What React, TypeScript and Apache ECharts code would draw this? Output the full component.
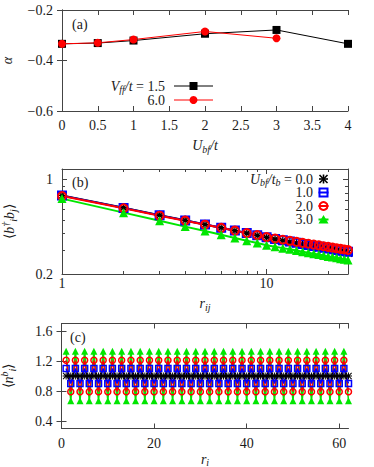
import React, { useEffect, useRef } from 'react';
import * as echarts from 'echarts';

// ---------- Panel (a) ----------
const aX15 = [0, 0.5, 1, 2, 3, 4];
const aY15 = [-0.334, -0.331, -0.321, -0.294, -0.279, -0.334];
const aX60 = [0, 0.5, 1, 2, 3];
const aY60 = [-0.334, -0.330, -0.317, -0.285, -0.312];
const aXTicks = [0, 0.5, 1, 1.5, 2, 2.5, 3, 3.5, 4];
const aLegend = ['{i|V}{s|ff}{i|/t}{n| = 1.5}', '{n|6.0}'];

// ---------- Panel (b) ----------
const bR = [1, 2, 3, 4, 5, 6, 7, 8, 9, 10, 11, 12, 13, 14, 15, 16, 17, 18, 19, 20, 21, 22, 23, 24, 25];
const bU00 = [0.765, 0.620, 0.545, 0.500, 0.466, 0.441, 0.419, 0.401, 0.386, 0.373, 0.362, 0.353, 0.345, 0.338, 0.331, 0.325, 0.319, 0.314, 0.309, 0.305, 0.301, 0.297, 0.294, 0.291, 0.288];
const bU10 = [0.762, 0.618, 0.544, 0.499, 0.466, 0.441, 0.420, 0.402, 0.387, 0.374, 0.364, 0.356, 0.348, 0.341, 0.334, 0.328, 0.323, 0.318, 0.313, 0.309, 0.305, 0.301, 0.298, 0.295, 0.292];
const bU20 = [0.757, 0.614, 0.541, 0.497, 0.464, 0.440, 0.419, 0.402, 0.388, 0.375, 0.366, 0.359, 0.352, 0.346, 0.340, 0.335, 0.330, 0.326, 0.321, 0.318, 0.314, 0.310, 0.307, 0.304, 0.301];
const bU30 = [0.724, 0.570, 0.496, 0.449, 0.416, 0.391, 0.370, 0.353, 0.340, 0.327, 0.319, 0.311, 0.305, 0.299, 0.292, 0.288, 0.283, 0.279, 0.274, 0.270, 0.267, 0.264, 0.260, 0.257, 0.254];
const bXMajor = [1, 10];
const bXMinor = [2, 3, 4, 5, 6, 7, 8, 9, 20];
const bYMajor = [0.2, 1];
const bYMinor = [0.3, 0.4, 0.5, 0.6, 0.7, 0.8, 0.9];
const bLegend = ['{i|U}{s|bf}{i|/t}{s|b}{n| = 0.0}', '{n|1.0}', '{n|2.0}', '{n|3.0}'];

// ---------- Panel (c) ----------
const cR = [1, 2, 3, 4, 5, 6, 7, 8, 9, 10, 11, 12, 13, 14, 15, 16, 17, 18, 19, 20, 21, 22, 23, 24, 25, 26, 27, 28, 29, 30, 31, 32, 33, 34, 35, 36, 37, 38, 39, 40, 41, 42, 43, 44, 45, 46, 47, 48, 49, 50, 51, 52, 53, 54, 55, 56, 57, 58, 59, 60, 61, 62];
const cU00 = [1.0, 1.0, 1.0, 1.0, 1.0, 1.0, 1.0, 1.0, 1.0, 1.0, 1.0, 1.0, 1.0, 1.0, 1.0, 1.0, 1.0, 1.0, 1.0, 1.0, 1.0, 1.0, 1.0, 1.0, 1.0, 1.0, 1.0, 1.0, 1.0, 1.0, 1.0, 1.0, 1.0, 1.0, 1.0, 1.0, 1.0, 1.0, 1.0, 1.0, 1.0, 1.0, 1.0, 1.0, 1.0, 1.0, 1.0, 1.0, 1.0, 1.0, 1.0, 1.0, 1.0, 1.0, 1.0, 1.0, 1.0, 1.0, 1.0, 1.0, 1.0, 1.0];
const cU10 = [1.10, 0.90, 1.10, 0.90, 1.10, 0.90, 1.10, 0.90, 1.10, 0.90, 1.10, 0.90, 1.10, 0.90, 1.10, 0.90, 1.10, 0.90, 1.10, 0.90, 1.10, 0.90, 1.10, 0.90, 1.10, 0.90, 1.10, 0.90, 1.10, 0.90, 1.10, 0.90, 1.10, 0.90, 1.10, 0.90, 1.10, 0.90, 1.10, 0.90, 1.10, 0.90, 1.10, 0.90, 1.10, 0.90, 1.10, 0.90, 1.10, 0.90, 1.10, 0.90, 1.10, 0.90, 1.10, 0.90, 1.10, 0.90, 1.10, 0.90, 1.10, 0.90];
const cU20 = [1.21, 0.79, 1.21, 0.79, 1.21, 0.79, 1.21, 0.79, 1.21, 0.79, 1.21, 0.79, 1.21, 0.79, 1.21, 0.79, 1.21, 0.79, 1.21, 0.79, 1.21, 0.79, 1.21, 0.79, 1.21, 0.79, 1.21, 0.79, 1.21, 0.79, 1.21, 0.79, 1.21, 0.79, 1.21, 0.79, 1.21, 0.79, 1.21, 0.79, 1.21, 0.79, 1.21, 0.79, 1.21, 0.79, 1.21, 0.79, 1.21, 0.79, 1.21, 0.79, 1.21, 0.79, 1.21, 0.79, 1.21, 0.79, 1.21, 0.79, 1.21, 0.79];
const cU30 = [1.33, 0.67, 1.33, 0.67, 1.33, 0.67, 1.33, 0.67, 1.33, 0.67, 1.33, 0.67, 1.33, 0.67, 1.33, 0.67, 1.33, 0.67, 1.33, 0.67, 1.33, 0.67, 1.33, 0.67, 1.33, 0.67, 1.33, 0.67, 1.33, 0.67, 1.33, 0.67, 1.33, 0.67, 1.33, 0.67, 1.33, 0.67, 1.33, 0.67, 1.33, 0.67, 1.33, 0.67, 1.33, 0.67, 1.33, 0.67, 1.33, 0.67, 1.33, 0.67, 1.33, 0.67, 1.33, 0.67, 1.33, 0.67, 1.33, 0.67, 1.33, 0.67];
const cYTicks = [0.4, 0.8, 1.2, 1.6];

const FONT = "'Liberation Serif', serif";
const TXT = '#1a1a1a';
const AXC = '#444';
const BLACK = '#000000';
const BLUE = '#0000ff';
const RED = '#ff0000';
const GREEN = '#00e600';
const ASTER = 'path://M0,4.3L10,4.3L10,5.7L0,5.7Z M4.3,0L5.7,0L5.7,10L4.3,10Z M0,1L1,0L10,9L9,10Z M9,0L10,1L1,10L0,9Z';

const mkRich = (lh: number, sh: number) => ({
  n: { fontFamily: FONT, fontSize: 14, color: TXT, lineHeight: lh },
  i: { fontFamily: FONT, fontSize: 14, fontStyle: 'italic', color: TXT, lineHeight: lh },
  s: { fontFamily: FONT, fontSize: 10, fontStyle: 'italic', color: TXT, lineHeight: lh, padding: [sh, 0, 0, 0] },
  p: { fontFamily: FONT, fontSize: 10, fontStyle: 'italic', color: TXT, lineHeight: lh, padding: [0, 0, sh, 0] },
});
const rich = mkRich(18, 8);
const richSmall = mkRich(14, 6);
const richLeg = mkRich(13, 6);

const zip = (xs: number[], ys: number[]) => xs.map((x, k) => [x, ys[k]]);
const fmtMinus = (v: number) => (Math.round(v * 10) / 10).toFixed(1).replace('-', '\u2212');

const lineAx = { show: true, lineStyle: { color: AXC, width: 1 } };
const labelStyle = { fontFamily: FONT, fontSize: 14, color: TXT };

function mirror(base: any, pos: string, ticks: any) {
  return { ...base, position: pos, name: '', axisLabel: { show: false }, axisTick: ticks };
}

function legText(text: string, x: number, y: number) {
  return { type: 'text', x, y, silent: true, style: { text, rich: richLeg, align: 'right', verticalAlign: 'middle', fill: TXT, font: `14px ${FONT}` } };
}
function legLine(x1: number, x2: number, y: number, color: string, w: number) {
  return { type: 'line', silent: true, shape: { x1, y1: y, x2, y2: y }, style: { stroke: color, lineWidth: w } };
}

export default function App() {
  const ref = useRef<HTMLDivElement>(null);
  useEffect(() => {
    if (!ref.current) return;
    const chart = echarts.init(ref.current, null, { renderer: 'svg' });

    const tickA = { inside: true, length: 5, lineStyle: { color: AXC } };

    const axA = {
      gridIndex: 0, type: 'value', min: 0, max: 4, interval: 0.5,
      axisLine: lineAx, splitLine: { show: false }, axisTick: tickA,
      axisLabel: { ...labelStyle, margin: 7, formatter: (v: number) => String(v), customValues: aXTicks },
      name: '{i|U}{s|bf}{i|/t}', nameLocation: 'middle', nameGap: 25, nameTextStyle: { rich },
    };
    const ayA = {
      gridIndex: 0, type: 'value', min: -0.6, max: -0.2, interval: 0.2,
      axisLine: lineAx, splitLine: { show: false }, axisTick: tickA,
      axisLabel: { ...labelStyle, margin: 9, formatter: fmtMinus },
      name: '{i|\u03b1}', nameLocation: 'middle', nameGap: 48, nameRotate: 90, nameTextStyle: { rich: richSmall },
    };
    const axB = {
      gridIndex: 1, type: 'log', logBase: 10, min: 1, max: 25,
      axisLine: lineAx, splitLine: { show: false }, minorTick: { show: false },
      axisTick: { ...tickA, customValues: bXMajor },
      axisLabel: { ...labelStyle, margin: 2, customValues: bXMajor, formatter: (v: number) => String(Math.round(v)) },
      name: '{i|r}{s|ij}', nameLocation: 'middle', nameGap: 20, nameTextStyle: { rich },
    };
    const ayB = {
      gridIndex: 1, type: 'log', logBase: 10, min: 0.2, max: 1.2,
      axisLine: lineAx, splitLine: { show: false }, minorTick: { show: false },
      axisTick: { ...tickA, customValues: bYMajor },
      axisLabel: { ...labelStyle, margin: 9, customValues: bYMajor, formatter: (v: number) => (v < 0.99 ? v.toFixed(1) : String(Math.round(v))) },
      name: '{n|\u27e8}{i|b}{p|\u2020}{s|i}{i|b}{s|j}{n|\u27e9}', nameLocation: 'middle', nameGap: 44, nameRotate: 90, nameTextStyle: { rich },
    };
    const minorX = { inside: true, length: 3, lineStyle: { color: AXC }, customValues: bXMinor };
    const minorY = { inside: true, length: 3, lineStyle: { color: AXC }, customValues: bYMinor };
    const axC = {
      gridIndex: 2, type: 'value', min: 0, max: 62, interval: 20,
      axisLine: lineAx, splitLine: { show: false }, axisTick: tickA,
      axisLabel: { ...labelStyle, margin: 8, formatter: (v: number) => String(v) },
      name: '{i|r}{s|i}', nameLocation: 'middle', nameGap: 18, nameTextStyle: { rich: richSmall },
    };
    const ayC = {
      gridIndex: 2, type: 'value', min: 0.3, max: 1.7,
      axisLine: lineAx, splitLine: { show: false },
      axisTick: { ...tickA, customValues: cYTicks },
      axisLabel: { ...labelStyle, margin: 9, customValues: cYTicks, formatter: (v: number) => v.toFixed(1) },
      name: '{n|\u27e8}{i|n}{p|b}{s|i}{n|\u27e9}', nameLocation: 'middle', nameGap: 44, nameRotate: 90, nameTextStyle: { rich },
    };

    const xAxis: any[] = [
      { ...axA, position: 'bottom' },
      mirror(axA, 'top', tickA),
      { ...axB, position: 'bottom' },
      mirror(axB, 'top', axB.axisTick),
      { ...mirror(axB, 'top', minorX), axisLine: { show: false } },
      { ...mirror(axB, 'bottom', minorX), axisLine: { show: false } },
      { ...axC, position: 'bottom' },
      mirror(axC, 'top', tickA),
    ];
    const yAxis: any[] = [
      { ...ayA, position: 'left' },
      mirror(ayA, 'right', tickA),
      { ...ayB, position: 'left' },
      mirror(ayB, 'right', ayB.axisTick),
      { ...mirror(ayB, 'right', minorY), axisLine: { show: false } },
      { ...mirror(ayB, 'left', minorY), axisLine: { show: false } },
      { ...ayC, position: 'left' },
      mirror(ayC, 'right', ayC.axisTick),
    ];

    // legend keys (a)
    const aTx = 165, aL1 = 174, aL2 = 213, aMx = 193.5, aRows = [86, 100];
    // legend keys (b)
    const bTx = 313, bMx = 323.5, bRows = [179, 192.5, 206, 219.5];

    const graphic: any[] = [
      { type: 'text', left: 72, top: 17, style: { text: '(a)', font: `14px ${FONT}`, fill: TXT } },
      { type: 'text', left: 72, top: 175, style: { text: '(b)', font: `14px ${FONT}`, fill: TXT } },
      { type: 'text', left: 70, top: 330, style: { text: '(c)', font: `14px ${FONT}`, fill: TXT } },
      legText(aLegend[0], aTx, aRows[0]),
      legLine(aL1, aL2, aRows[0], BLACK, 1),
      { type: 'rect', silent: true, shape: { x: aMx - 4, y: aRows[0] - 4, width: 8, height: 8 }, style: { fill: BLACK } },
      legText(aLegend[1], aTx, aRows[1]),
      legLine(aL1, aL2, aRows[1], RED, 1),
      { type: 'circle', silent: true, shape: { cx: aMx, cy: aRows[1], r: 4 }, style: { fill: RED } },
      // (b) keys
      legText(bLegend[0], bTx, bRows[0]),
      { type: 'line', silent: true, shape: { x1: bMx - 4.5, y1: bRows[0], x2: bMx + 4.5, y2: bRows[0] }, style: { stroke: BLACK, lineWidth: 1.6 } },
      { type: 'line', silent: true, shape: { x1: bMx, y1: bRows[0] - 4.5, x2: bMx, y2: bRows[0] + 4.5 }, style: { stroke: BLACK, lineWidth: 1.6 } },
      { type: 'line', silent: true, shape: { x1: bMx - 4, y1: bRows[0] - 4, x2: bMx + 4, y2: bRows[0] + 4 }, style: { stroke: BLACK, lineWidth: 1.6 } },
      { type: 'line', silent: true, shape: { x1: bMx + 4, y1: bRows[0] - 4, x2: bMx - 4, y2: bRows[0] + 4 }, style: { stroke: BLACK, lineWidth: 1.6 } },
      legText(bLegend[1], bTx, bRows[1]),
      legLine(bMx - 5, bMx + 5, bRows[1], BLUE, 2),
      { type: 'rect', silent: true, shape: { x: bMx - 4, y: bRows[1] - 4, width: 8, height: 8 }, style: { fill: 'none', stroke: BLUE, lineWidth: 2 } },
      legText(bLegend[2], bTx, bRows[2]),
      legLine(bMx - 5, bMx + 5, bRows[2], RED, 2),
      { type: 'circle', silent: true, shape: { cx: bMx, cy: bRows[2], r: 4 }, style: { fill: 'none', stroke: RED, lineWidth: 2 } },
      legText(bLegend[3], bTx, bRows[3]),
      legLine(bMx - 5, bMx + 5, bRows[3], GREEN, 2),
      { type: 'polygon', silent: true, shape: { points: [[bMx, bRows[3] - 4.5], [bMx + 5, bRows[3] + 4], [bMx - 5, bRows[3] + 4]] }, style: { fill: GREEN } },
    ];

    const option: any = {
      animation: false,
      grid: [
        { left: 62, top: 10, width: 286, height: 101, outerBoundsMode: 'none', containLabel: false },
        { left: 62, top: 169, width: 286, height: 105, outerBoundsMode: 'none', containLabel: false },
        { left: 61.5, top: 323.5, width: 287, height: 105, outerBoundsMode: 'none', containLabel: false },
      ],
      xAxis,
      yAxis,
      graphic,
      series: [
        // (a)
        { name: 'a15', type: 'line', xAxisIndex: 0, yAxisIndex: 0, data: zip(aX15, aY15), clip: false,
          symbol: 'rect', symbolSize: 8, itemStyle: { color: BLACK }, lineStyle: { color: BLACK, width: 1 } },
        { name: 'a60', type: 'line', xAxisIndex: 0, yAxisIndex: 0, data: zip(aX60, aY60), clip: false,
          symbol: 'circle', symbolSize: 8, itemStyle: { color: RED }, lineStyle: { color: RED, width: 1 } },
        // (b)
        { name: 'b0', type: 'line', xAxisIndex: 2, yAxisIndex: 2, data: zip(bR, bU00), clip: false,
          symbol: ASTER, symbolSize: 9, itemStyle: { color: BLACK }, lineStyle: { color: BLACK, width: 2 } },
        { name: 'b1', type: 'line', xAxisIndex: 2, yAxisIndex: 2, data: zip(bR, bU10), clip: false,
          symbol: 'rect', symbolSize: 8, itemStyle: { color: 'rgba(0,0,0,0)', borderColor: BLUE, borderWidth: 2 }, lineStyle: { color: BLUE, width: 2 } },
        { name: 'b2', type: 'line', xAxisIndex: 2, yAxisIndex: 2, data: zip(bR, bU20), clip: false,
          symbol: 'circle', symbolSize: 8, itemStyle: { color: 'rgba(0,0,0,0)', borderColor: RED, borderWidth: 2 }, lineStyle: { color: RED, width: 2 } },
        { name: 'b3', type: 'line', xAxisIndex: 2, yAxisIndex: 2, data: zip(bR, bU30), clip: false,
          symbol: 'triangle', symbolSize: 9, itemStyle: { color: GREEN }, lineStyle: { color: GREEN, width: 2 } },
        // (c)
        { name: 'c3', type: 'line', xAxisIndex: 6, yAxisIndex: 6, data: zip(cR, cU30), clip: false,
          symbol: 'triangle', symbolSize: 7, itemStyle: { color: GREEN }, lineStyle: { color: GREEN, width: 1.5 } },
        { name: 'c2', type: 'line', xAxisIndex: 6, yAxisIndex: 6, data: zip(cR, cU20), clip: false,
          symbol: 'circle', symbolSize: 6, itemStyle: { color: 'rgba(0,0,0,0)', borderColor: RED, borderWidth: 1.5 }, lineStyle: { color: RED, width: 1.5 } },
        { name: 'c1', type: 'line', xAxisIndex: 6, yAxisIndex: 6, data: zip(cR, cU10), clip: false,
          symbol: 'rect', symbolSize: 6, itemStyle: { color: 'rgba(0,0,0,0)', borderColor: BLUE, borderWidth: 1.5 }, lineStyle: { color: BLUE, width: 1.5 } },
        { name: 'c0', type: 'line', xAxisIndex: 6, yAxisIndex: 6, data: zip(cR, cU00), clip: false,
          symbol: ASTER, symbolSize: 7, itemStyle: { color: BLACK }, lineStyle: { color: BLACK, width: 2 } },
      ],
    };
    chart.setOption(option);
    return () => chart.dispose();
  }, []);
  return <div ref={ref} style={{ position: 'absolute', left: 0, top: 0, width: 374, height: 467, background: '#fff' }} />;
}
